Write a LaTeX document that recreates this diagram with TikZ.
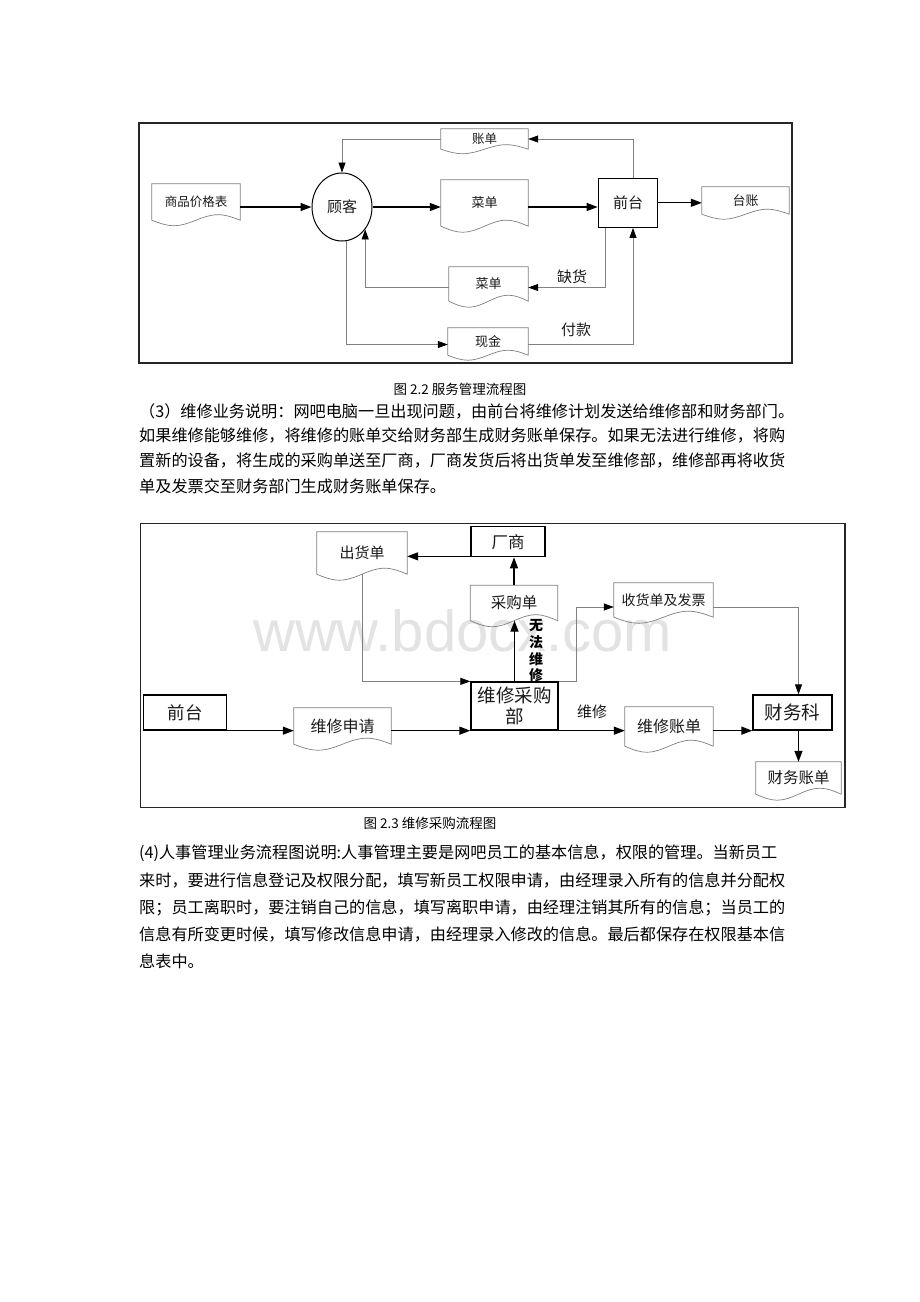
\documentclass[tikz,border=0pt]{standalone}
\usepackage{fontspec}
\setmainfont{Noto Sans CJK SC}
\newfontfamily\wmfont{Liberation Sans}
\usetikzlibrary{arrows.meta,calc,shapes.geometric}
\XeTeXlinebreaklocale "zh"
\XeTeXlinebreakskip=0pt plus 3pt minus 0.6pt
\newcommand\fs[1]{\fontsize{#1}{#1}\selectfont}
\definecolor{ln}{HTML}{808080}
\definecolor{tx}{HTML}{1A1A1A}
\newcommand\docwave[2][5]{%
  \draw[docline] (#2.south west) -- (#2.north west) -- (#2.north east) -- (#2.south east)
    sin ($(#2.south east)!0.25!(#2.south west)+(0,-#1)$)
    cos (#2.south)
    sin ($(#2.south east)!0.75!(#2.south west)+(0,#1)$)
    cos (#2.south west);}
\tikzset{
  docline/.style={draw=ln, line width=0.7pt},
  docnode/.style={draw=none, inner sep=0pt, text=tx},
  boxnode/.style={draw=black, line width=1.3pt, inner sep=0pt, text=tx},
  thick arrow/.style={draw=black, line width=1.3pt, -{Triangle[length=11pt,width=8pt]}},
  thin arrow/.style={draw=ln, line width=0.8pt, -{Triangle[length=10pt,width=7pt,color=black]}},
  label node/.style={inner sep=0pt, text=tx},
  vchar/.style={inner sep=0pt, font=\fs{14}\bfseries, text=black},
  para/.style={anchor=west, inner sep=0pt, font=\fs{16.15}},
}
\begin{document}
\begin{tikzpicture}[x=1pt,y=-1pt]
\useasboundingbox (0,0) rectangle (920,1302);
\fill[white] (0,0) rectangle (920,1302);

% ---------------- Frame 1 ----------------
\draw[line width=1.2pt, black!85] (139,123) rectangle (792,363);

\node[docnode, minimum width=88pt, minimum height=36pt, font=\fs{12.5}] (p1) at (196,202) {商品价格表};
\docwave[5.5]{p1}
\node[docnode, minimum width=87pt, minimum height=20pt, font=\fs{12.5}] (zd) at (484.5,139) {账单};
\docwave[4.5]{zd}
\node[docnode, minimum width=87pt, minimum height=46pt, font=\fs{13}] (cd1) at (484.5,203) {菜单};
\docwave[6]{cd1}
\node[docnode, minimum width=87pt, minimum height=27pt, font=\fs{13}] (tz) at (745.5,200.5) {台账};
\docwave[5]{tz}
\node[docnode, minimum width=79pt, minimum height=34pt, font=\fs{13}] (cd2) at (488.5,284) {菜单};
\docwave[6]{cd2}
\node[docnode, minimum width=80pt, minimum height=27pt, font=\fs{13}] (xj) at (488,341.5) {现金};
\docwave[5]{xj}

\node[ellipse, draw=black, line width=1pt, inner sep=0pt, minimum width=60pt, minimum height=68pt, font=\fs{15}, text=tx] (gk) at (342,207) {顾客};
\node[boxnode, minimum width=59.4pt, minimum height=49pt, font=\fs{15}] (qt) at (628,202.8) {前台};

\node[label node, font=\fs{15}] (qh) at (572,277) {缺货};
\node[label node, font=\fs{15}] (fk) at (576,329.5) {付款};

\draw[thick arrow] (p1.east |- gk.west) -- (gk.west);
\draw[thick arrow] (gk.east) -- (gk.east -| cd1.west);
\draw[thick arrow] (cd1.east |- gk.east) -- (qt.west |- gk.east);
\draw[thick arrow] (qt.east) -- (qt.east -| tz.west);
\draw[thin arrow] ($(qt.north)+(5,0)$) |- (zd.east);
\draw[thin arrow] (zd.west) -| (gk.north);
\draw[thin arrow] ($(qt.south)+(-23,0)$) |- ($(cd2.east)+(0,3.5)$);
\draw[thin arrow] ($(cd2.west)+(0,3.5)$) -| (gk.-44);
\draw[thin arrow] (gk.-82) |- ($(xj.west)+(0,3)$);
\draw[thin arrow] ($(xj.east)+(0,3)$) -| ($(qt.south)+(5,0)$);

\node[label node, font=\fs{13.5}, text=black] (cap1) at (460,389) {图 2.2 服务管理流程图};

\node[para] (a1) at (139,411) {\makebox[646pt][s]{（3）维修业务说明：网吧电脑一旦出现问题，由前台将维修计划发送给维修部和财务部门。}};
\node[para] (a2) at (139,436) {\makebox[646pt][s]{如果维修能够维修，将维修的账单交给财务部生成财务账单保存。如果无法进行维修，将购}};
\node[para] (a3) at (139,461) {\makebox[646pt][s]{置新的设备，将生成的采购单送至厂商，厂商发货后将出货单发至维修部，维修部再将收货}};
\node[para] (a4) at (139,486) {单及发票交至财务部门生成财务账单保存。};

% ---------------- Frame 2 ----------------
\node[anchor=base west, inner sep=0pt, font=\wmfont\fontsize{58}{58}\selectfont, text=black!11] (wm) at (253,651.5) {www.bdocx.com};
\draw[line width=1.2pt, black!85] (140.7,523.3) rectangle (845,807.7);

\node[boxnode, minimum width=83pt, minimum height=35pt, font=\fs{17.5}] (qt2) at (185,712.5) {前台};
\node[docnode, minimum width=90pt, minimum height=42pt, font=\fs{15}] (chd) at (362,553) {出货单};
\docwave[6]{chd}
\node[boxnode, minimum width=74pt, minimum height=30pt, font=\fs{16.5}] (cs) at (508,541.7) {厂商};
\node[docnode, minimum width=87pt, minimum height=35pt, font=\fs{15.5}] (cgd) at (514,603) {采购单};
\docwave[6]{cgd}
\node[docnode, minimum width=99pt, minimum height=34pt, font=\fs{14}] (shd) at (663.5,600) {收货单及发票};
\docwave[6]{shd}
\node[boxnode, minimum width=87pt, minimum height=48pt, font=\fs{18.5}, align=center] (wx) at (514.5,706) {维修采购\\[2pt]部};
\node[docnode, minimum width=97pt, minimum height=36pt, font=\fs{16}] (sq) at (342.5,726) {维修申请};
\docwave[6]{sq}
\node[docnode, minimum width=88pt, minimum height=39pt, font=\fs{16}] (zdw) at (669,726.5) {维修账单};
\docwave[6]{zdw}
\node[boxnode, minimum width=79pt, minimum height=35pt, font=\fs{18.5}] (cwk) at (792.5,712.5) {财务科};
\node[docnode, minimum width=85pt, minimum height=32pt, font=\fs{15.5}] (cwzd) at (798.5,778) {财务账单};
\docwave[6]{cwzd}

\node[vchar] (wf1) at (536,625.5) {无};
\node[vchar] (wf2) at (536,642.2) {法};
\node[vchar] (wf3) at (536,658.9) {维};
\node[vchar] (wf4) at (536,675.6) {修};
\node[label node, font=\fs{15}] (wxl) at (592,711.7) {维修};

\draw[thick arrow] (qt2.south east) -- (qt2.south east -| sq.west);
\draw[thick arrow] (sq.east |- wx.south west) -- (wx.south west);
\draw[thick arrow] (wx.south east) -- (wx.south east -| zdw.west);
\draw[thick arrow] (zdw.east |- cwk.south west) -- (cwk.south west);
\draw[thick arrow] (cwzd.north |- cwk.south) -- (cwzd.north);
\draw[thick arrow] (wx.north) -- (wx.north |- cgd.south);
\draw[thick arrow] (cgd.north) -- (cgd.north |- cs.south);
\draw[thick arrow] ($(cs.south west)+(0,-1)$) -- ($(chd.east |- cs.south west)+(0,-1)$);
\draw[thin arrow] (chd.south) |- (wx.north west);
\draw[thin arrow] (wx.north east) -- ++(18,0) |- ($(shd.west)+(0,7)$);
\draw[thin arrow] ($(shd.east)+(0,7)$) -| (cwzd.north |- cwk.north);

\node[label node, font=\fs{13.5}, text=black] (cap2) at (430,823) {图 2.3 维修采购流程图};

\node[para] (b1) at (139,853.5) {\makebox[646pt][s]{(4)人事管理业务流程图说明:人事管理主要是网吧员工的基本信息，权限的管理。当新员工}};
\node[para] (b2) at (139,880.5) {\makebox[646pt][s]{来时，要进行信息登记及权限分配，填写新员工权限申请，由经理录入所有的信息并分配权}};
\node[para] (b3) at (139,907.5) {\makebox[646pt][s]{限；员工离职时，要注销自己的信息，填写离职申请，由经理注销其所有的信息；当员工的}};
\node[para] (b4) at (139,934.5) {\makebox[646pt][s]{信息有所变更时候，填写修改信息申请，由经理录入修改的信息。最后都保存在权限基本信}};
\node[para] (b5) at (139,961.5) {息表中。};
\end{tikzpicture}
\end{document}
